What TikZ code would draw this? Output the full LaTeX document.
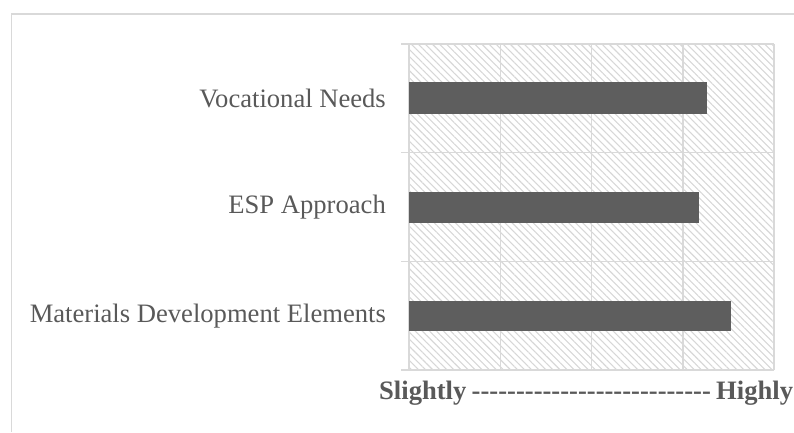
\documentclass[tikz,border=0pt]{standalone}
\usepackage{fontspec}
\setmainfont{Liberation Serif}
\usetikzlibrary{patterns.meta}
\definecolor{txtgrey}{RGB}{89,89,89}
\definecolor{bargrey}{RGB}{94,94,94}
\definecolor{gridgrey}{RGB}{217,217,217}
\definecolor{hatchgrey}{RGB}{215,215,215}
\newcommand\hyph{-{}}
\begin{document}
\begin{tikzpicture}[x=1pt,y=-1pt,
  gridline/.style={draw=gridgrey,line width=1.4pt},
  barbox/.style={fill=bargrey,draw=none,anchor=west,inner sep=0pt,outer sep=0pt},
  catlabel/.style={anchor=east,inner sep=0pt,text=txtgrey,font=\fontsize{26.6}{30}\selectfont},
  axislabel/.style={anchor=west,inner sep=0pt,text=txtgrey,font=\fontsize{26.6}{30}\selectfont\bfseries}]
\useasboundingbox (0,0) rectangle (794,432);
% outer frame (top and left edges only)
\draw[draw=gridgrey,line width=1.4pt] (11.5,432) -- (11.5,14) -- (794,14);
% hatched plot area
\fill[pattern={Lines[angle=-45,distance=5pt,line width=1.1pt]},pattern color=hatchgrey] (409,44) rectangle (774,370);
% vertical grid lines
\foreach \xx in {500.3,591.5,682.8,774}{\draw[gridline] (\xx,44) -- (\xx,370);}
% horizontal grid lines with ticks
\foreach \yy in {44,152.7,261.3,370}{\draw[gridline] (401,\yy) -- (774,\yy);}
\draw[gridline] (409,44) -- (409,370);
% bars
\node[barbox,minimum width=298pt,minimum height=32pt] (b1) at (409,98) {};
\node[barbox,minimum width=290pt,minimum height=31pt] (b2) at (409,207.5) {};
\node[barbox,minimum width=322pt,minimum height=30pt] (b3) at (409,316) {};
% category labels
\node[catlabel] (l1) at (386,98) {Vocational Needs};
\node[catlabel] (l2) at (386,207.5) {ESP Approach};
\node[catlabel] (l3) at (386,316) {Materials Development Elements};
% axis label
\node[axislabel] (ax) at (379,393) {Slightly\hspace{0.2em}\hyph\hyph\hyph\hyph\hyph\hyph\hyph\hyph\hyph\hyph\hyph\hyph\hyph\hyph\hyph\hyph\hyph\hyph\hyph\hyph\hyph\hyph\hyph\hyph\hyph\hyph\hyph\hspace{0.2em}Highly};
\end{tikzpicture}
\end{document}
